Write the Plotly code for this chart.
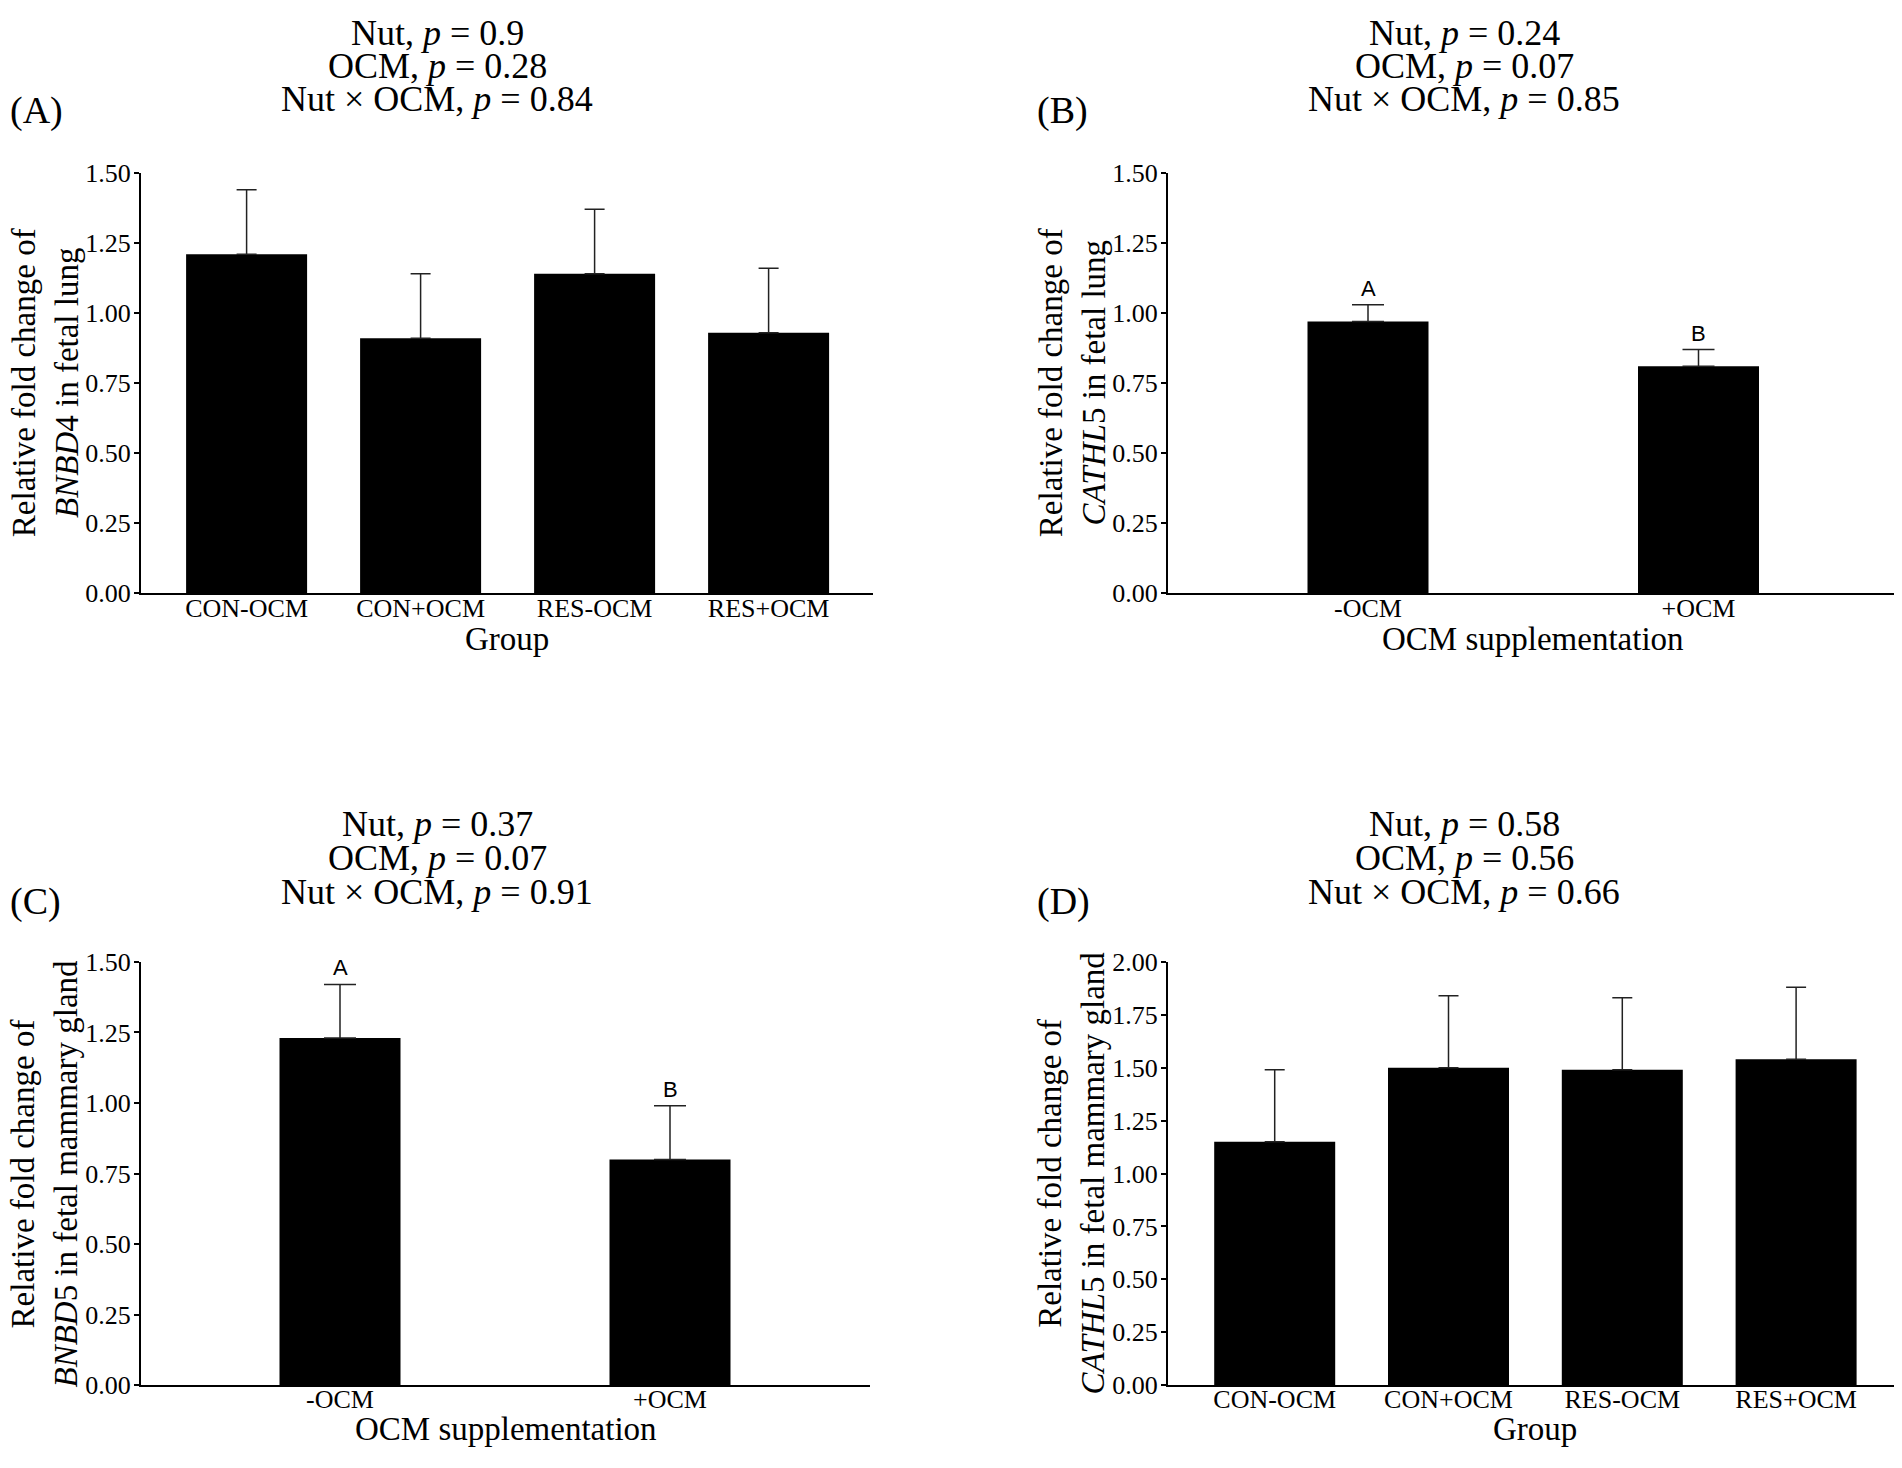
import plotly.graph_objects as go

# the page adds an 8 px body margin, so the figure is 16 px smaller than the window
W, H = 1886, 1452
PAGE_OFF = 8

# ---- data ----
groups = ["CON-OCM", "CON+OCM", "RES-OCM", "RES+OCM"]
ocm_levels = ["-OCM", "+OCM"]

bnbd4_lung_mean = [1.21, 0.91, 1.14, 0.93]
bnbd4_lung_se = [0.23, 0.23, 0.23, 0.23]

cathl5_lung_mean = [0.97, 0.81]
cathl5_lung_se = [0.06, 0.06]
cathl5_lung_letters = ["A", "B"]

bnbd5_mg_mean = [1.23, 0.80]
bnbd5_mg_se = [0.19, 0.19]
bnbd5_mg_letters = ["A", "B"]

cathl5_mg_mean = [1.15, 1.50, 1.49, 1.54]
cathl5_mg_se = [0.34, 0.34, 0.34, 0.34]

p_nut = ["0.9", "0.24", "0.37", "0.58"]
p_ocm = ["0.28", "0.07", "0.07", "0.56"]
p_int = ["0.84", "0.85", "0.91", "0.66"]

panel_labels = ["(A)", "(B)", "(C)", "(D)"]
y_titles = [
    "Relative fold change of<br><i>BNBD</i>4 in fetal lung",
    "Relative fold change of<br><i>CATHL</i>5 in fetal lung",
    "Relative fold change of<br><i>BNBD</i>5 in fetal mammary gland",
    "Relative fold change of<br><i>CATHL</i>5 in fetal mammary gland",
]
x_titles = ["Group", "OCM supplementation", "OCM supplementation", "Group"]
y_max = [1.5, 1.5, 1.5, 2.0]

SERIF = "Liberation Serif, Times New Roman, serif"
SANS = "Liberation Sans, Arial, sans-serif"


def fx(p):
    # p is a page pixel (as in the reference picture)
    return (p - PAGE_OFF) / W


def fy(p):
    return 1 - (p - PAGE_OFF) / H


# page-pixel geometry: axis start, first bar centre, slot width, axis end, top, bottom
geom = [
    (141, 246.6, 174.0, 873, 162, 591),
    (1168, 1368.0, 330.5, 1897, 162, 591),
    (141, 340.0, 330.0, 870, 967, 1399),
    (1168, 1274.7, 173.8, 1902, 967, 1399),
]
col_offset = [0, 1027, 0, 1027]
title_rows = [(19, 53, 87), (19, 53, 87), (826, 861, 896), (826, 861, 896)]
label_y = [98, 98, 905, 905]
xtitle_y = [638, 638, 1444, 1444]
BAR_PX = 121

panels = [
    (groups, bnbd4_lung_mean, bnbd4_lung_se, None),
    (ocm_levels, cathl5_lung_mean, cathl5_lung_se, cathl5_lung_letters),
    (ocm_levels, bnbd5_mg_mean, bnbd5_mg_se, bnbd5_mg_letters),
    (groups, cathl5_mg_mean, cathl5_mg_se, None),
]

fig = go.Figure()
annotations = []
layout_axes = {}

for i, (cats, mean, se, letters) in enumerate(panels):
    n = i + 1
    xa = "x" if n == 1 else f"x{n}"
    ya = "y" if n == 1 else f"y{n}"
    two = len(cats) == 2
    start, c0, slot, end, top, bottom = geom[i]
    end = min(end, W + PAGE_OFF)

    fig.add_trace(go.Bar(
        x=cats, y=mean, xaxis=xa, yaxis=ya,
        width=BAR_PX / slot,
        marker=dict(color="black", line=dict(width=0)),
        error_y=dict(type="data", symmetric=False, array=se,
                     arrayminus=[0] * len(se), color="#222222",
                     thickness=1.5, width=16 if two else 10),
        showlegend=False,
    ))

    layout_axes["xaxis" if n == 1 else f"xaxis{n}"] = dict(
        domain=[fx(start), fx(end)], anchor=ya,
        range=[(start - c0) / slot, (end - c0) / slot],
        showline=True, linecolor="black", linewidth=2, ticks="",
        ticklabelstandoff=-10,
        tickfont=dict(family=SERIF, size=26, color="black"),
        showgrid=False, zeroline=False, fixedrange=True,
    )
    layout_axes["yaxis" if n == 1 else f"yaxis{n}"] = dict(
        domain=[fy(bottom), fy(top)], anchor=xa, range=[0, y_max[i]],
        dtick=0.25, tickformat=".2f",
        showline=True, linecolor="black", linewidth=2,
        ticks="outside", ticklen=5, tickwidth=1.5, tickcolor="black",
        ticklabelstandoff=-2,
        tickfont=dict(family=SERIF, size=26, color="black"),
        showgrid=False, zeroline=False, fixedrange=True,
    )

    off = col_offset[i]
    lines = [
        f"Nut, <i>p</i> = {p_nut[i]}",
        f"OCM, <i>p</i> = {p_ocm[i]}",
        f"Nut × OCM, <i>p</i> = {p_int[i]}",
    ]
    for txt, yy in zip(lines, title_rows[i]):
        annotations.append(dict(
            text=txt, x=fx(437 + off), y=fy(yy), xref="paper", yref="paper",
            xanchor="center", yanchor="middle", showarrow=False,
            font=dict(family=SERIF, size=36, color="black"),
        ))
    annotations.append(dict(
        text=panel_labels[i], x=fx(8 + off), y=fy(label_y[i]),
        xref="paper", yref="paper", xanchor="left", yanchor="middle",
        showarrow=False, font=dict(family=SERIF, size=38, color="black"),
    ))
    annotations.append(dict(
        text=y_titles[i], x=fx(45 + off), y=fy((top + bottom) / 2),
        xref="paper", yref="paper", xanchor="center", yanchor="middle",
        textangle=-90, showarrow=False,
        font=dict(family=SERIF, size=33, color="black"),
    ))
    annotations.append(dict(
        text=x_titles[i], x=fx((start + geom[i][3]) / 2), y=fy(xtitle_y[i]),
        xref="paper", yref="paper", xanchor="center", yanchor="middle",
        showarrow=False, font=dict(family=SERIF, size=33, color="black"),
    ))
    if letters:
        for c, m, s, let in zip(cats, mean, se, letters):
            annotations.append(dict(
                text=let, x=c, y=m + s, xref=xa, yref=ya,
                xanchor="center", yanchor="bottom", yshift=2,
                showarrow=False, font=dict(family=SANS, size=22, color="black"),
            ))

fig.update_layout(
    width=W, height=H,
    margin=dict(l=0, r=0, t=0, b=0),
    plot_bgcolor="white", paper_bgcolor="white",
    annotations=annotations,
    **layout_axes,
)

fig.write_html("out.html")
